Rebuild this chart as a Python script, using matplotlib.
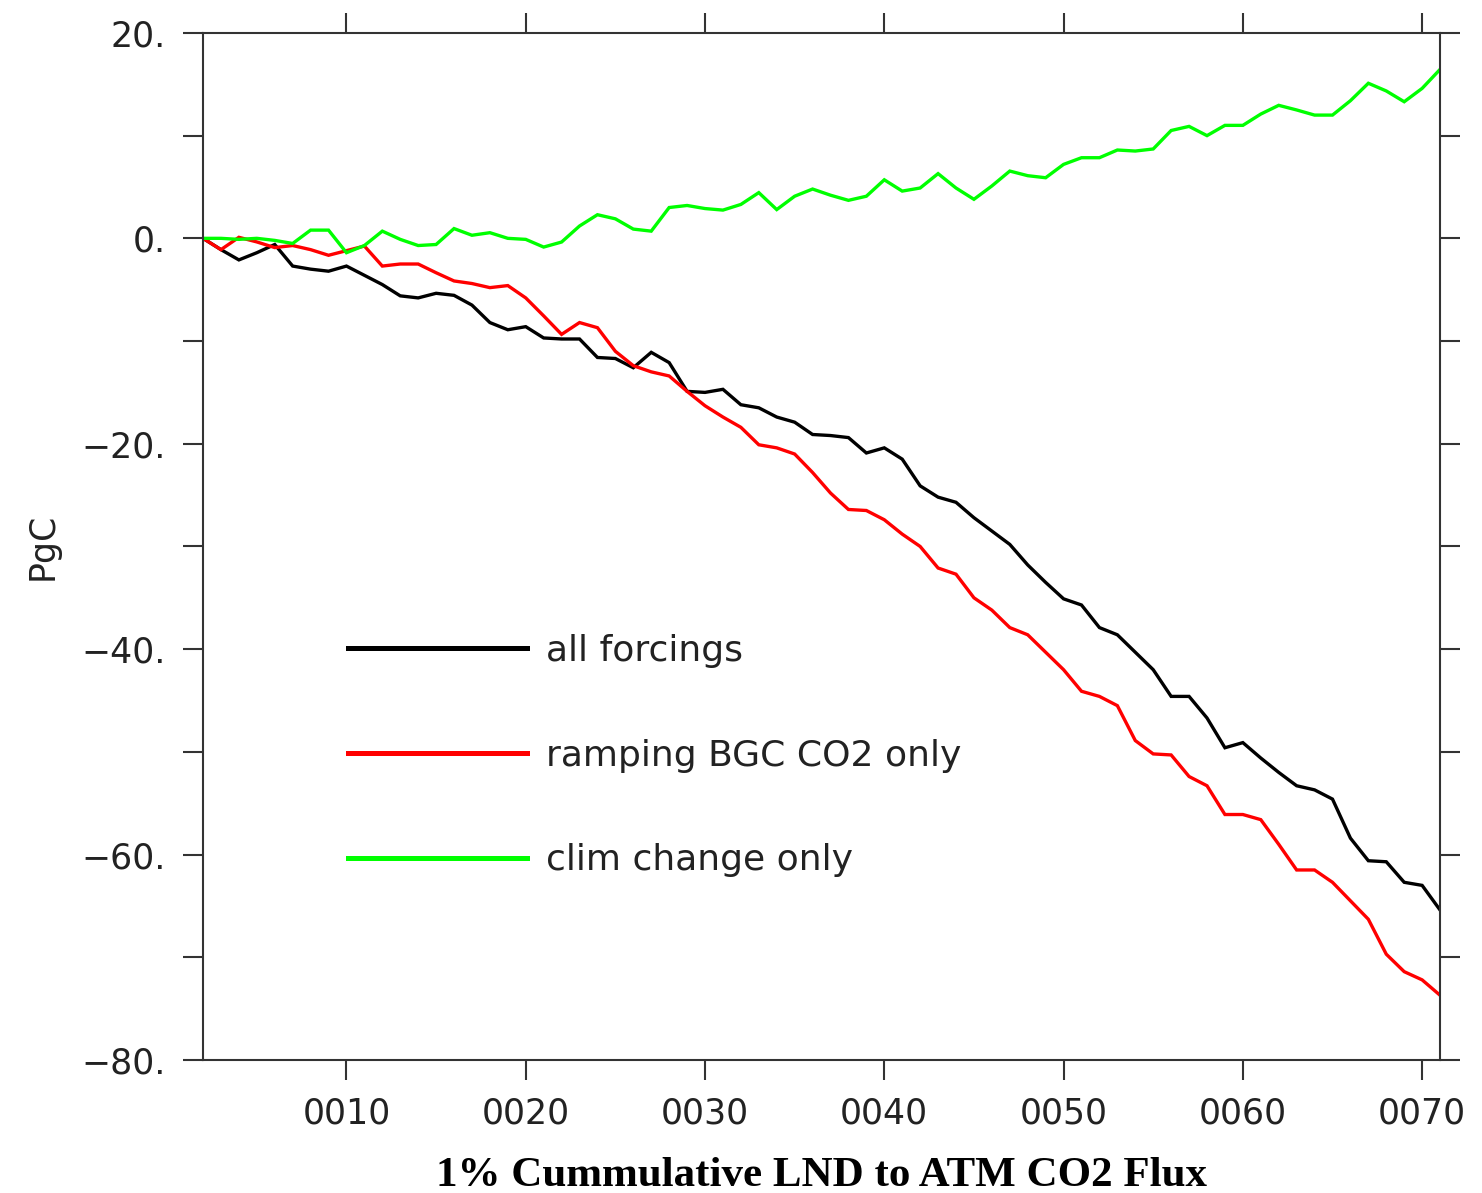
import numpy as np
import matplotlib
matplotlib.use("Agg")
import matplotlib.pyplot as plt
from matplotlib.lines import Line2D

# model years 2..71, cumulative land -> atmosphere CO2 flux (PgC)
years = np.arange(2, 72)

all_forcings = [
    0.0, -1.1, -2.1, -1.4, -0.6, -2.7, -3.0, -3.2, -2.7, -3.6,
    -4.5, -5.6, -5.8, -5.35, -5.55, -6.5, -8.2, -8.9, -8.6, -9.7,
    -9.8, -9.8, -11.6, -11.7, -12.6, -11.1, -12.1, -14.9, -15.0, -14.7,
    -16.2, -16.5, -17.4, -17.9, -19.1, -19.2, -19.4, -20.9, -20.4, -21.5,
    -24.1, -25.2, -25.7, -27.2, -28.5, -29.8, -31.8, -33.5, -35.1, -35.7,
    -37.9, -38.6, -40.3, -42.0, -44.6, -44.6, -46.7, -49.6, -49.1, -50.6,
    -52.0, -53.3, -53.7, -54.6, -58.4, -60.6, -60.7, -62.7, -63.0, -65.4,
]

bgc_co2_only = [
    0.0, -1.1, 0.1, -0.35, -0.9, -0.7, -1.1, -1.65, -1.2, -0.75,
    -2.7, -2.5, -2.5, -3.35, -4.15, -4.4, -4.8, -4.6, -5.8, -7.55,
    -9.35, -8.2, -8.7, -11.0, -12.4, -13.0, -13.4, -14.9, -16.3, -17.4,
    -18.4, -20.1, -20.4, -21.0, -22.8, -24.8, -26.4, -26.5, -27.4, -28.8,
    -30.0, -32.1, -32.7, -35.0, -36.2, -37.9, -38.6, -40.3, -42.0, -44.1,
    -44.6, -45.5, -48.9, -50.2, -50.3, -52.4, -53.3, -56.1, -56.1, -56.6,
    -59.0, -61.5, -61.5, -62.7, -64.5, -66.3, -69.7, -71.4, -72.2, -73.7,
]

clim_change_only = [
    0.0, 0.0, -0.1, 0.0, -0.2, -0.5, 0.8, 0.8, -1.4, -0.7,
    0.7, -0.1, -0.7, -0.6, 0.95, 0.3, 0.55, 0.0, -0.1, -0.85,
    -0.36, 1.2, 2.3, 1.9, 0.9, 0.7, 3.0, 3.2, 2.9, 2.75,
    3.3, 4.45, 2.8, 4.1, 4.8, 4.2, 3.7, 4.1, 5.7, 4.6,
    4.9, 6.3, 4.9, 3.8, 5.1, 6.55, 6.1, 5.9, 7.2, 7.85,
    7.85, 8.6, 8.5, 8.7, 10.5, 10.9, 10.0, 11.0, 11.0, 12.1,
    12.95, 12.5, 12.0, 12.0, 13.4, 15.1, 14.35, 13.3, 14.6, 16.45,
]

series_labels = ["all forcings", "ramping BGC CO2 only", "clim change only"]
series_colors = ["#000000", "#ff0000", "#00ff00"]

xtick_years = [10, 20, 30, 40, 50, 60, 70]
xtick_labels = ["0010", "0020", "0030", "0040", "0050", "0060", "0070"]

ytick_values = np.arange(-80, 21, 10)
ytick_labels = ["\u221280.", "", "\u221260.", "", "\u221240.", "", "\u221220.", "", "0.", "", "20."]

fig = plt.figure(figsize=(14.82, 11.93), dpi=100)
ax = fig.add_axes([0.137, 0.1115, 0.8347, 0.8609])

for vals, col in zip([all_forcings, bgc_co2_only, clim_change_only], series_colors):
    ax.plot(years, vals, color=col, lw=2.4, solid_joinstyle="miter")

ax.set_xlim(2, 71)
ax.set_ylim(-80, 20)

axis_col = "#333333"
for sp in ax.spines.values():
    sp.set_color(axis_col)
    sp.set_linewidth(1.5)

ax.set_xticks(xtick_years)
ax.set_xticklabels(xtick_labels)
ax.set_yticks(ytick_values)
ax.set_yticklabels(ytick_labels)
ax.tick_params(axis="both", direction="out", length=14.5, width=1.5, color=axis_col,
               top=True, right=True, labelsize=25, labelcolor="#222222")
ax.tick_params(axis="x", pad=12)
ax.tick_params(axis="y", pad=12)

# x title sits just above the bottom edge of the figure
fig.text(0.5543, 7 / 1193, "1% Cummulative LND to ATM CO2 Flux", family="Liberation Serif",
         fontweight="bold", fontsize=31, ha="center", va="baseline")
ax.set_ylabel("PgC", fontsize=25, color="#222222", labelpad=16)

handles = [Line2D([], [], color=c, lw=3.6) for c in series_colors]
leg = ax.legend(handles, series_labels, loc="upper left", bbox_to_anchor=(0.117, 0.415),
                frameon=False, fontsize=26, handlelength=4.96, handletextpad=0.53,
                labelspacing=1.96, borderpad=0, borderaxespad=0)
for t in leg.get_texts():
    t.set_color("#222222")

fig.savefig("out.png", dpi=100)
